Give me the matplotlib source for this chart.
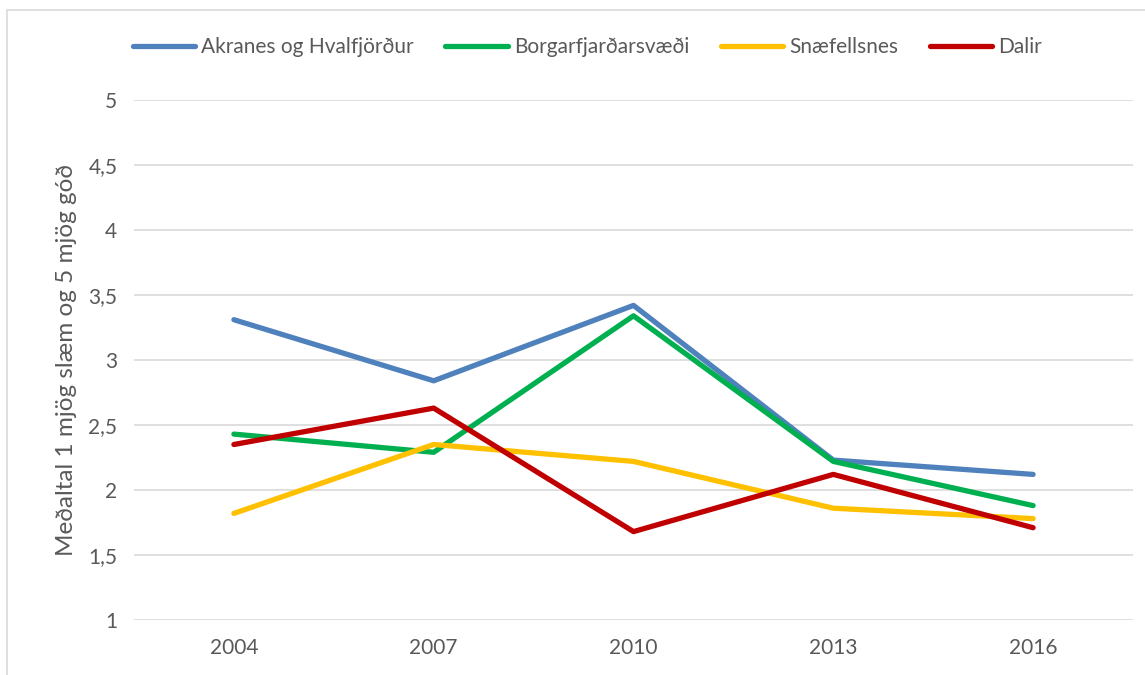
import matplotlib.pyplot as plt
from matplotlib.patches import Rectangle

plt.rcParams['font.family'] = ['Lato', 'DejaVu Sans']

years = ['2004', '2007', '2010', '2013', '2016']
akranes = [3.31, 2.84, 3.42, 2.23, 2.12]
borgarfjordur = [2.43, 2.29, 3.34, 2.22, 1.88]
snaefellsnes = [1.82, 2.35, 2.22, 1.86, 1.78]
dalir = [2.35, 2.63, 1.68, 2.12, 1.71]

series = [
    ('Akranes og Hvalfjörður', akranes, '#4F81BD'),
    ('Borgarfjarðarsvæði', borgarfjordur, '#00B050'),
    ('Snæfellsnes', snaefellsnes, '#FFC000'),
    ('Dalir', dalir, '#C00000'),
]

fig = plt.figure(figsize=(11.45, 6.75), dpi=100)
ax = fig.add_axes([134 / 1145, 1 - 620 / 675, 999 / 1145, 520 / 675])

x = range(len(years))
for name, vals, col in series:
    ax.plot(x, vals, color=col, lw=3.8, label=name, solid_capstyle='round')

ax.set_xlim(-0.5, len(years) - 0.5)
ax.set_ylim(1, 5)
ax.set_yticks([1, 1.5, 2, 2.5, 3, 3.5, 4, 4.5, 5])
ax.set_yticklabels(['1', '1,5', '2', '2,5', '3', '3,5', '4', '4,5', '5'])
ax.set_xticks(list(x))
ax.set_xticklabels(years)
ax.grid(axis='y', color='#D9D9D9', lw=1.2)
ax.set_axisbelow(True)
for s in ax.spines.values():
    s.set_visible(False)
ax.tick_params(length=0, labelsize=15, colors='#595959', pad=12)
ax.tick_params(axis='x', pad=13)
ax.set_ylabel('Meðaltal 1 mjög slæm og 5 mjög góð', fontsize=17.5, color='#595959', labelpad=8)

fig.legend(loc='center', bbox_to_anchor=(0.513, 1 - 47 / 675), ncol=4, frameon=False,
           fontsize=15, handlelength=3.0, columnspacing=1.5, handletextpad=0.3,
           labelcolor='#595959')

fig.patches.append(Rectangle((7 / 1145, -0.1), 1.2, 1 - 10 / 675 + 0.1, transform=fig.transFigure,
                             fill=False, edgecolor='#D9D9D9', lw=1.2))

fig.savefig('out.png', dpi=100)
